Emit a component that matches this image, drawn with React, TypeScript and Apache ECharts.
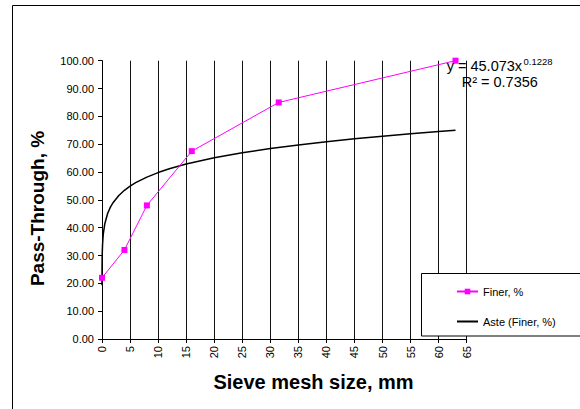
import React, { useEffect, useRef } from "react";
import * as echarts from "echarts";

const sieveSize = [0, 4, 8, 16, 31.5, 63];
const finerPct = [22, 32, 48, 67.5, 85, 100];

// Points along the printed power trendline y = 45.073x^0.1228
const trendX = [0.001, 0.003, 0.01, 0.03, 0.05, 0.1, 0.2, 0.25, 0.5, 1, 1.5, 2, 3, 4, 5, 6, 8, 10, 12, 15, 20, 25, 30, 35, 40, 45, 50, 55, 60, 63];
const trendY = [19.3, 22.09, 25.61, 29.3, 31.2, 33.97, 36.99, 38.02, 41.4, 45.07, 47.38, 49.08, 51.58, 53.44, 54.92, 56.17, 58.18, 59.8, 61.16, 62.86, 65.12, 66.92, 68.44, 69.75, 70.9, 71.94, 72.87, 73.73, 74.52, 74.97];

const xTicks = { min: 0, max: 65, interval: 5 };
const yTicks = { min: 0, max: 100, interval: 10 };

const seriesNames = ["Finer, %", "Aste (Finer, %)"];
const xTitle = "Sieve mesh size, mm";
const yTitle = "Pass-Through, %";
const eqText = "y = 45.073x";
const eqExp = "0.1228";
const r2Text = "R² = 0.7356";

const FONT = "'Liberation Sans', Arial, sans-serif";

export default function App() {
  const ref = useRef<HTMLDivElement>(null);
  useEffect(() => {
    const chart = echarts.init(ref.current!, null, { renderer: "svg" });
    chart.setOption({
      animation: false,
      backgroundColor: "#fff",
      textStyle: { fontFamily: FONT },
      grid: { left: 102, top: 60.7, right: 113.3, bottom: 70, containLabel: false },
      xAxis: {
        type: "value",
        min: xTicks.min,
        max: xTicks.max,
        interval: xTicks.interval,
        axisLine: { show: true, lineStyle: { color: "#000", width: 1 } },
        axisTick: { show: true, inside: false, length: 4, lineStyle: { color: "#000" } },
        axisLabel: { rotate: 90, fontSize: 11, color: "#000", margin: 7, fontFamily: FONT },
        splitLine: { show: true, lineStyle: { color: "#111", width: 1 } },
      },
      yAxis: {
        type: "value",
        min: yTicks.min,
        max: yTicks.max,
        interval: yTicks.interval,
        axisLine: { show: true, lineStyle: { color: "#000", width: 1 } },
        axisTick: { show: true, inside: false, length: 4, lineStyle: { color: "#000" } },
        axisLabel: {
          fontSize: 11,
          color: "#000",
          margin: 8,
          fontFamily: FONT,
          formatter: (v: number) => v.toFixed(2),
        },
        splitLine: { show: false },
      },
      legend: {
        data: [
          { name: seriesNames[0] },
          { name: seriesNames[1], itemStyle: { opacity: 0 } },
        ],
        orient: "vertical",
        left: 451,
        top: 281,
        itemWidth: 21,
        itemHeight: 7,
        itemGap: 19,
        z: 10,
        textStyle: { fontSize: 11, color: "#000", fontFamily: FONT },
      },
      series: [
        {
          name: seriesNames[0],
          type: "line",
          data: sieveSize.map((x, i) => [x, finerPct[i]]),
          symbol: "rect",
          symbolSize: 6,
          itemStyle: { color: "#ff00ff" },
          lineStyle: { color: "#ff00ff", width: 1 },
          z: 3,
        },
        {
          name: seriesNames[1],
          type: "line",
          data: trendX.map((x, i) => [x, trendY[i]]),
          showSymbol: false,
          symbol: "none",
          itemStyle: { color: "#000" },
          lineStyle: { color: "#000", width: 1.5 },
          z: 2,
        },
      ],
      graphic: [
        {
          type: "rect",
          z: 1,
          shape: { x: 12.5, y: 5.5, width: 700, height: 700 },
          style: { fill: "none", stroke: "#000", lineWidth: 1 },
          silent: true,
        },
        {
          type: "rect",
          z: 5,
          shape: { x: 421.5, y: 273.5, width: 250, height: 62.5 },
          style: { fill: "#fff", stroke: "#000", lineWidth: 1 },
          silent: true,
        },
        {
          type: "text",
          z: 6,
          x: 446.7,
          y: 66,
          style: { text: eqText, fontSize: 14.5, fontFamily: FONT, fill: "#000", align: "left", verticalAlign: "middle" },
        },
        {
          type: "text",
          z: 6,
          x: 523.5,
          y: 61.5,
          style: { text: eqExp, fontSize: 9.5, fontFamily: FONT, fill: "#000", align: "left", verticalAlign: "middle" },
        },
        {
          type: "text",
          z: 6,
          x: 461.7,
          y: 81.7,
          style: { text: r2Text, fontSize: 14.5, fontFamily: FONT, fill: "#000", align: "left", verticalAlign: "middle" },
        },
        {
          type: "text",
          z: 6,
          x: 37,
          y: 208.5,
          rotation: Math.PI / 2,
          style: { text: yTitle, fontSize: 19, fontWeight: "bold", fontFamily: FONT, fill: "#000", align: "center", verticalAlign: "middle" },
        },
        {
          type: "text",
          z: 6,
          x: 313.5,
          y: 382,
          style: { text: xTitle, fontSize: 20, fontWeight: "bold", fontFamily: FONT, fill: "#000", align: "center", verticalAlign: "middle" },
        },
      ],
    });
    return () => chart.dispose();
  }, []);
  return (
    <div
      ref={ref}
      style={{ position: "fixed", left: 0, top: 0, width: 580, height: 409, background: "#fff" }}
    />
  );
}
